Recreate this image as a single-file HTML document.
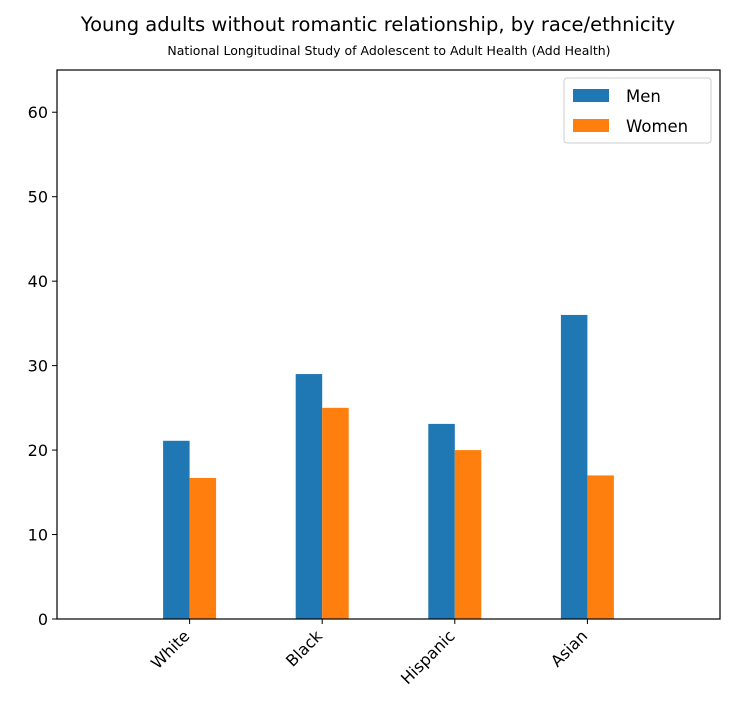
<!DOCTYPE html>
<html><head><meta charset="utf-8"><style>
body{margin:0;background:#fff;width:756px;height:720px;overflow:hidden}
text{font-family:"DejaVu Sans","Liberation Sans",sans-serif;fill:#000}
</style></head><body>
<svg id="chart" width="756" height="720" xmlns="http://www.w3.org/2000/svg">
<text x="378" y="31" font-size="19.5" text-anchor="middle">Young adults without romantic relationship, by race/ethnicity</text>
<text x="389" y="55" font-size="12.5" text-anchor="middle">National Longitudinal Study of Adolescent to Adult Health (Add Health)</text>
<g id="bars"></g><g id="axes"></g>
</svg>
<script>
const categories=["White","Black","Hispanic","Asian"];
const menValues=[21.1,29.0,23.1,36.0];
const womenValues=[16.7,25.0,20.0,17.0];
const yTicks=[0,10,20,30,40,50,60];
const L=57,R=720,T=70,B=619,yMax=65;
const NS="http://www.w3.org/2000/svg";
function y(v){return B-(v/yMax)*(B-T);}
function x(i){return L+(i+1)*(R-L)/5;}
const bw=26.5;
function el(t,a){const e=document.createElementNS(NS,t);for(const k in a)e.setAttribute(k,a[k]);return e;}
const bars=document.getElementById('bars'),axes=document.getElementById('axes');
categories.forEach((c,i)=>{
  const m=el('rect',{x:x(i)-bw,y:y(menValues[i]),width:bw,height:B-y(menValues[i]),fill:'#1f77b4'});
  
  
  bars.appendChild(m);
  const w=el('rect',{x:x(i),y:y(womenValues[i]),width:bw,height:B-y(womenValues[i]),fill:'#ff7f0e'});
  
  
  bars.appendChild(w);
  const tk=el('line',{x1:x(i),x2:x(i),y1:B,y2:B+5,stroke:'#000','stroke-width':1});
  axes.appendChild(tk);
  const ax=x(i)+1, ay=B+18;
  const t=el('text',{x:ax,y:ay,'font-size':16,'text-anchor':'end',transform:`rotate(-45 ${ax} ${ay})`});
  t.textContent=c;
  
  
  axes.appendChild(t);
});
yTicks.forEach(v=>{
  axes.appendChild(el('line',{x1:L-5,x2:L,y1:y(v),y2:y(v),stroke:'#000','stroke-width':1}));
  const t=el('text',{x:L-9,y:y(v)+6,'font-size':16,'text-anchor':'end'});
  t.textContent=v;
  
  
  axes.appendChild(t);
});
const frame=el('rect',{x:L,y:T,width:R-L,height:B-T,fill:'none',stroke:'#000','stroke-width':1.2});


axes.appendChild(frame);
const lg=el('g',{});


lg.appendChild(el('rect',{x:564,y:78,width:147,height:65,fill:'#fff',stroke:'#ccc',rx:3}));
lg.appendChild(el('rect',{x:573,y:89,width:36,height:13,fill:'#1f77b4'}));
lg.appendChild(el('rect',{x:573,y:119,width:36,height:13,fill:'#ff7f0e'}));
const t1=el('text',{x:626,y:102,'font-size':16.5});t1.textContent='Men';

const t2=el('text',{x:626,y:132,'font-size':16.5});t2.textContent='Women';

lg.appendChild(t1);lg.appendChild(t2);
axes.appendChild(lg);
</script>
</body></html>
